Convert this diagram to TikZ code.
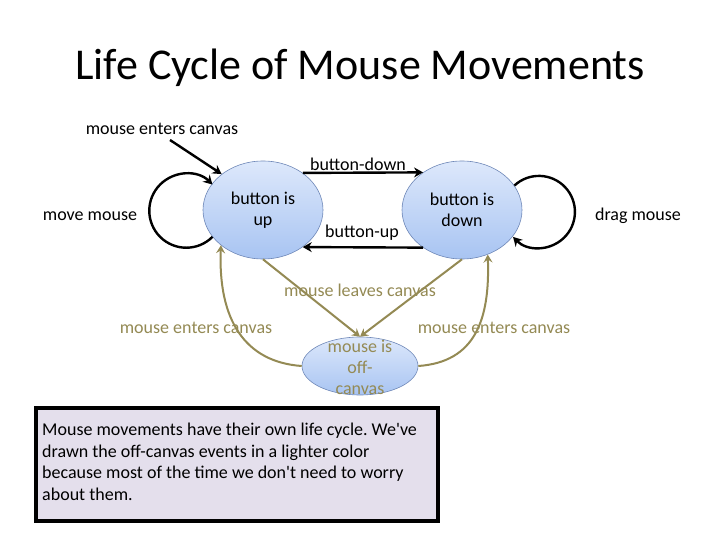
\documentclass[tikz,border=0pt]{standalone}
\usepackage{fontspec}
\setmainfont{Carlito}
\usetikzlibrary{shapes.geometric,arrows.meta}
\definecolor{olv}{HTML}{948A54}
\definecolor{nodeTop}{HTML}{DDE8FB}
\definecolor{nodeBot}{HTML}{A8C4F2}
\definecolor{nodeLine}{HTML}{6F88B8}
\definecolor{boxFill}{HTML}{E4DFEC}
\frenchspacing
\begin{document}
\begin{tikzpicture}[x=1pt,y=-1pt,
  state/.style={ellipse, draw=nodeLine, line width=0.6pt, top color=nodeTop, bottom color=nodeBot,
    minimum width=120pt, minimum height=98pt, inner sep=0pt, align=center,
    font=\fontsize{18}{21}\selectfont},
  lbl/.style={font=\fontsize{18}{20}\selectfont, inner sep=0pt},
  blk/.style={line width=2.4pt, -{Stealth[length=9pt,width=10pt,inset=3pt]}},
  olvarr/.style={olv, line width=2pt, -{Stealth[length=8pt,width=9pt,inset=3pt]}},
]
\useasboundingbox (0,0) rectangle (720,540);
\fill[white] (0,0) rectangle (720,540);

% title
\node[font=\fontsize{44}{50}\selectfont, text=black] (title) at (360,68) {Life Cycle of Mouse Movements};

% states
\node[state] (up) at (263,210) {button is\\up};
\node[state] (down) at (462,210) {button is\\down};
\node[state, minimum width=116pt, minimum height=58pt] (off) at (360,366) {};
\node[align=center, text=olv, font=\fontsize{18}{21}\selectfont, inner sep=0pt] (offtxt) at (360,367) {mouse is\\off-\\canvas};

% entry arrow
\coordinate (entry) at (170,140);
\node[lbl] (entrylbl) at (162,129) {mouse enters canvas};
\draw[blk] (entry) -- (up.139);

% button-down / button-up
\draw[blk] (up.43.5) -- (down.136.5);
\node[lbl] (bdlbl) at (358,164) {button-down};
\draw[blk] (down.-136.5) -- (up.-43.5);
\node[lbl] (bulbl) at (362,233) {button-up};

% self loops
\draw[blk] (up.208) arc[start angle=-45, end angle=-315, radius=37pt];
\node[lbl] (movelbl) at (90,216) {move mouse};
\draw[blk] (down.25) arc[start angle=133, end angle=-136, radius=36pt];
\node[lbl] (draglbl) at (638,216) {drag mouse};

% off-canvas transitions
\draw[olvarr] (up.-90) -- (off.90);
\draw[olvarr] (down.-90) -- (off.90);
\node[lbl, text=olv] (leavelbl) at (360,290) {mouse leaves canvas};
\draw[olvarr] (off.west) .. controls (245,362) and (218,320) .. (up.-140);
\draw[olvarr] (off.east) .. controls (475,362) and (490,320) .. (down.-60);
\node[lbl, text=olv] (entl) at (196,328) {mouse enters canvas};
\node[lbl, text=olv] (entr) at (494,328) {mouse enters canvas};

% note box
\node[draw=black, line width=3.5pt, fill=boxFill, minimum width=402pt, minimum height=113pt,
  inner sep=0pt] (note) at (237,464.5) {};
\node[anchor=north west, align=left, inner sep=0pt, font=\fontsize{18}{21.5}\selectfont] (notetxt) at (42,423)
  {Mouse movements have their own life cycle. We\textquotesingle ve\\
   drawn the off-canvas events in a lighter color\\
   because most of the time we don\textquotesingle t need to worry\\
   about them.};
\end{tikzpicture}
\end{document}
